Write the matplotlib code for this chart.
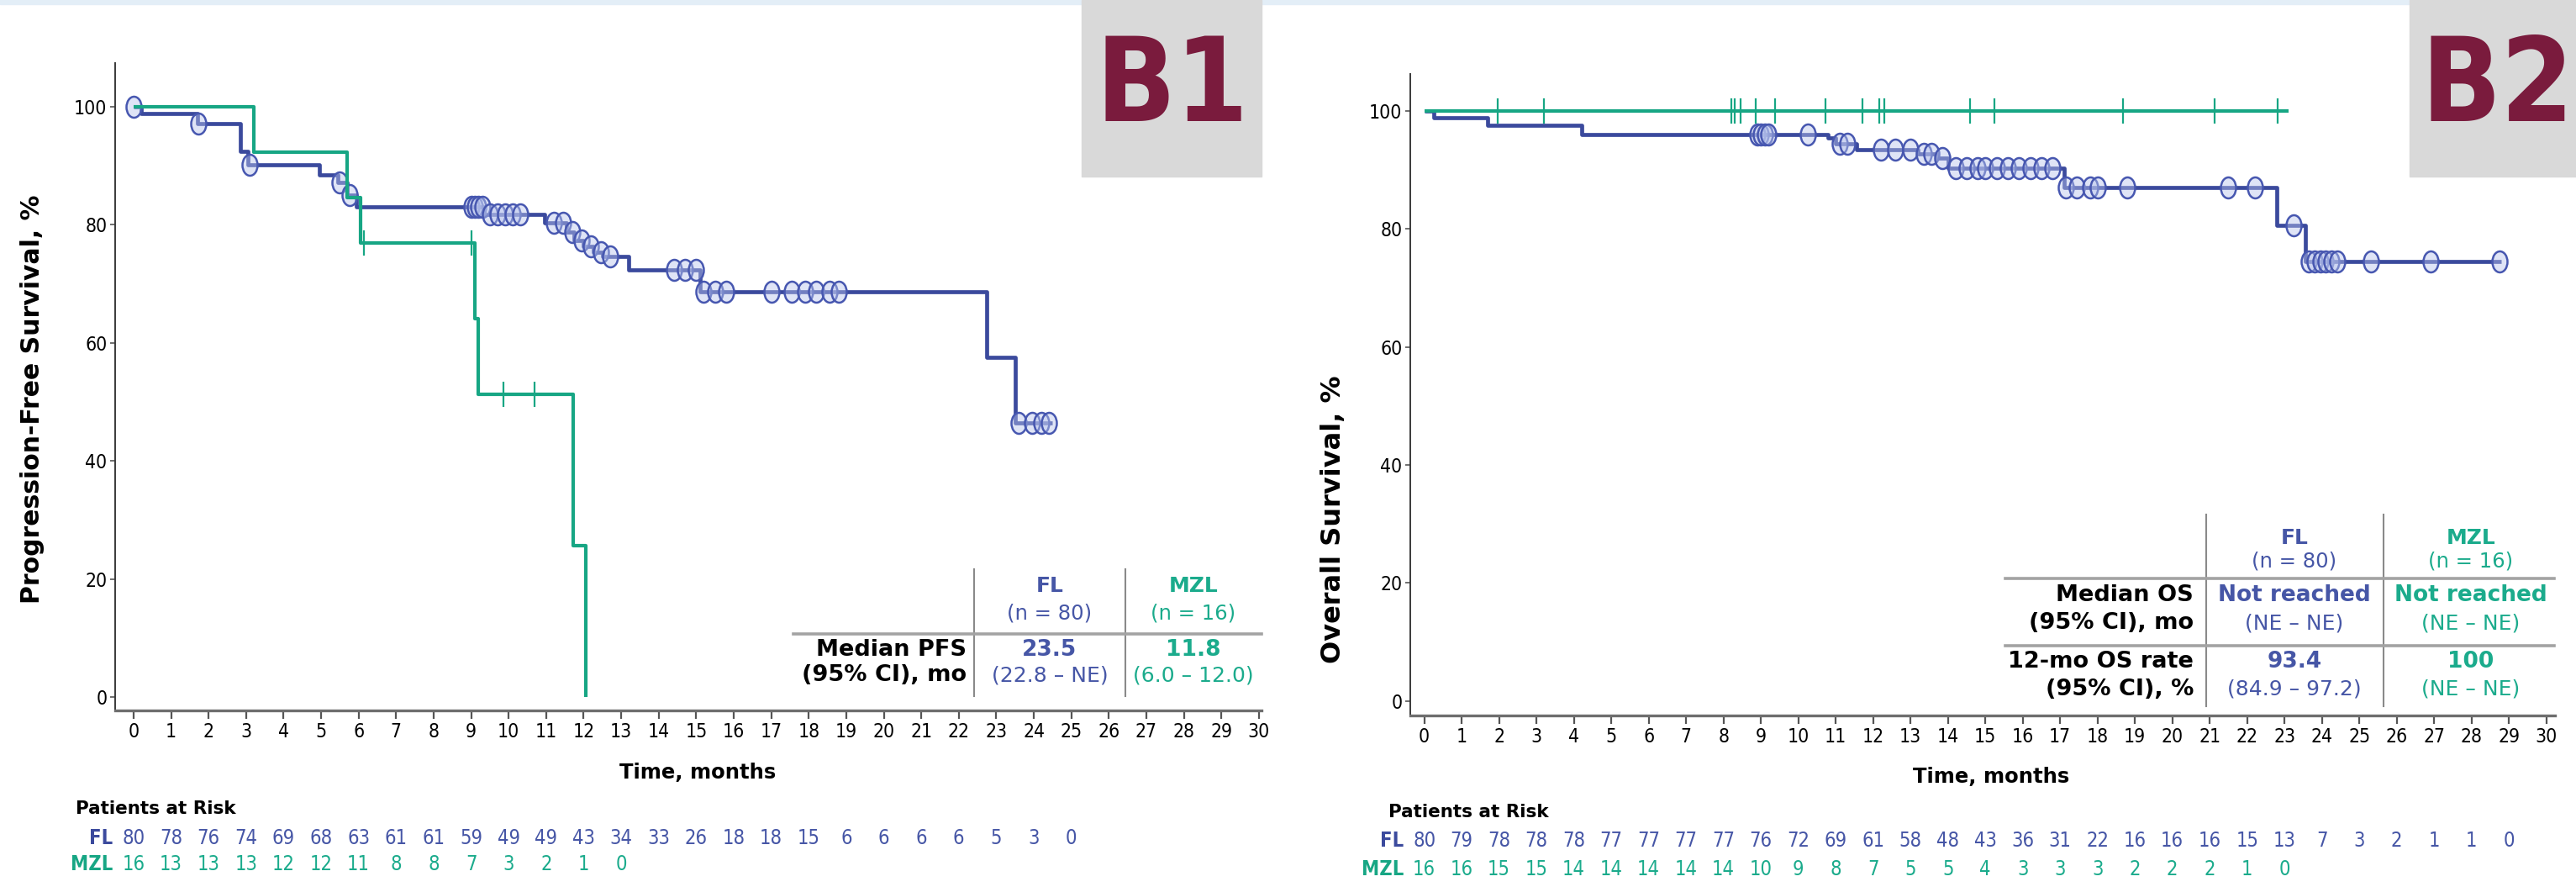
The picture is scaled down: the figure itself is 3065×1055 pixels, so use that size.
import numpy as np
import matplotlib
matplotlib.use("Agg")
import matplotlib.pyplot as plt
import matplotlib.transforms as mtransforms
from matplotlib.path import Path
from matplotlib import font_manager
from matplotlib.font_manager import FontProperties

# ---------------- data ----------------
months = list(range(31))
yticks = [0, 20, 40, 60, 80, 100]

# B1: progression-free survival (step times / survival %)
pfs_fl_t = [0, 0.2, 1.7, 2.85, 3.05, 4.95, 5.45, 5.7, 5.95, 9.35, 10.95, 11.55, 11.75,
            12.0, 12.25, 12.5, 13.2, 15.1, 22.75, 23.5, 24.5]
pfs_fl_s = [100, 98.8, 97.2, 92.5, 90.1, 88.4, 87.2, 85.0, 83.0, 81.8, 80.3, 78.7, 77.3,
            76.3, 75.4, 74.6, 72.4, 68.7, 57.5, 46.4, 46.4]
pfs_fl_cens = [0, 1.72, 3.1, 5.5, 5.75, 9.0, 9.1, 9.2, 9.3, 9.5, 9.7, 9.9, 10.1, 10.3,
               11.2, 11.45, 11.7, 11.95, 12.2, 12.45, 12.7, 14.4, 14.7, 15.0, 15.2, 15.5,
               15.8, 17.0, 17.55, 17.9, 18.2, 18.55, 18.8, 23.6, 23.95, 24.2, 24.4]
pfs_mzl_t = [0, 3.2, 5.7, 6.05, 9.1, 9.2, 11.72, 12.05]
pfs_mzl_s = [100, 92.3, 84.6, 76.9, 64.1, 51.3, 25.6, 0]
pfs_mzl_cens = [6.15, 9.0, 9.85, 10.7]

# B2: overall survival
os_fl_t = [0, 0.25, 1.7, 4.2, 10.8, 11.0, 11.55, 13.2, 13.7, 14.0, 17.1, 22.8, 23.55, 28.8]
os_fl_s = [100, 98.9, 97.6, 96.1, 95.4, 94.5, 93.5, 92.8, 92.1, 90.4, 87.0, 80.7, 74.5, 74.5]
os_fl_cens = [8.9, 9.0, 9.1, 9.2, 10.25, 11.1, 11.3, 12.2, 12.6, 13.0, 13.35, 13.55, 13.85,
              14.2, 14.5, 14.8, 15.0, 15.3, 15.6, 15.9, 16.2, 16.5, 16.8, 17.15, 17.45,
              17.8, 18.0, 18.8, 21.5, 22.2, 23.25, 23.65, 23.8, 23.95, 24.1, 24.25, 24.4,
              25.3, 26.9, 28.75]
os_mzl_t = [0, 23.1]
os_mzl_s = [100, 100]
os_mzl_cens = [1.97, 3.2, 8.2, 8.3, 8.45, 8.87, 9.37, 10.73, 11.71, 12.17, 12.3, 14.58,
               15.24, 18.67, 21.12, 22.81]

# patients at risk
pfs_risk_fl = [80, 78, 76, 74, 69, 68, 63, 61, 61, 59, 49, 49, 43, 34, 33, 26, 18, 18, 15,
               6, 6, 6, 6, 5, 3, 0]
pfs_risk_mzl = [16, 13, 13, 13, 12, 12, 11, 8, 8, 7, 3, 2, 1, 0]
os_risk_fl = [80, 79, 78, 78, 78, 77, 77, 77, 77, 76, 72, 69, 61, 58, 48, 43, 36, 31, 22,
              16, 16, 16, 15, 13, 7, 3, 2, 1, 1, 0]
os_risk_mzl = [16, 16, 15, 15, 14, 14, 14, 14, 14, 10, 9, 8, 7, 5, 5, 4, 3, 3, 3, 2, 2, 2, 1, 0]

# summary tables
groups = ["FL", "MZL"]
group_n = ["(n = 80)", "(n = 16)"]
pfs_rows = [("Median PFS", "(95% CI), mo")]
pfs_vals = [[("23.5", "(22.8 – NE)"), ("11.8", "(6.0 – 12.0)")]]
os_rows = [("Median OS", "(95% CI), mo"), ("12-mo OS rate", "(95% CI), %")]
os_vals = [[("Not reached", "(NE – NE)"), ("Not reached", "(NE – NE)")],
           [("93.4", "(84.9 – 97.2)"), ("100", "(NE – NE)")]]

# ---------------- style ----------------
W, H = 3065, 1055
FL_C = "#3b4a9d"
MZL_C = "#17a684"
FL_TXT = "#4656a6"
MZL_TXT = "#1bab8c"
MAROON = "#7a1b3d"


def _wt(w):
    if isinstance(w, str):
        return 700 if "bold" in w.lower() else 400
    return int(w)


def narrow_font(bold=False):
    # look for a condensed / narrow face among the installed families
    want = 700 if bold else 400
    best = None
    for fam in ("Liberation Sans Narrow", "Noto Sans", "DejaVu Sans", "Open Sans", "Roboto"):
        for f in font_manager.fontManager.ttflist:
            if f.name != fam or f.style != "normal":
                continue
            st = str(f.stretch)
            ok = "Narrow" in f.name or st in ("condensed", "semi-condensed")
            if ok and abs(_wt(f.weight) - want) < 50:
                if best is None or st == "condensed":
                    best = f.fname
        if best:
            return best
    return None


_nr = narrow_font(False)
_nb = narrow_font(True)


def nprop(size, bold=False):
    fn = _nb if bold else _nr
    if fn:
        return FontProperties(fname=fn, size=size)
    return FontProperties(family="DejaVu Sans", size=size * 0.82,
                          weight="bold" if bold else "normal")


TICK_FS = 16.5

circ = Path.unit_circle()
ELLIPSE = Path(circ.vertices * np.array([0.72, 1.0]), circ.codes)


def fx(x):
    return x / W


def fy(y):
    return 1 - y / H


def level_at(t_arr, s_arr, t):
    idx = np.searchsorted(np.asarray(t_arr), np.asarray(t), side="right") - 1
    return np.asarray(s_arr)[idx]


fig = plt.figure(figsize=(W / 100, H / 100), dpi=100)
fig.patches.append(plt.Rectangle((0, fy(5)), 1, 5 / H, transform=fig.transFigure,
                                 color="#e3eef7", zorder=0))


def make_axes(box, xlim, ylim):
    x0, y0, x1, y1 = box
    ax = fig.add_axes([fx(x0), fy(y1), fx(x1) - fx(x0), fy(y0) - fy(y1)])
    ax.set_xlim(*xlim)
    ax.set_ylim(*ylim)
    for s in ("top", "right"):
        ax.spines[s].set_visible(False)
    ax.spines["left"].set_color("#3a3a3a")
    ax.spines["left"].set_linewidth(1.4)
    ax.spines["bottom"].set_color("#6e6e6e")
    ax.spines["bottom"].set_linewidth(2.4)
    ax.set_xticks(months)
    ax.set_xticklabels([str(m) for m in months], fontproperties=nprop(TICK_FS))
    ax.set_yticks(yticks)
    ax.set_yticklabels([str(v) for v in yticks], fontproperties=nprop(TICK_FS))
    ax.tick_params(axis="x", length=7, width=1.6, color="#555555", pad=3)
    ax.tick_params(axis="y", length=4, width=1.2, color="#555555", pad=3)
    return ax


def draw_curves(ax, fl_t, fl_s, fl_c, mzl_t, mzl_s, mzl_c):
    ax.step(fl_t, fl_s, where="post", color=FL_C, lw=3.4, solid_capstyle="butt", zorder=3)
    ax.plot(fl_c, level_at(fl_t, fl_s, fl_c), ls="none", marker=ELLIPSE, ms=18,
            mfc=(0.72, 0.77, 0.93, 0.45), mec="#4757b0", mew=1.8, zorder=4)
    ax.step(mzl_t, mzl_s, where="post", color=MZL_C, lw=3.0, solid_capstyle="butt", zorder=5)
    ax.plot(mzl_c, level_at(mzl_t, mzl_s, mzl_c), ls="none", marker="|", ms=21,
            mec=MZL_C, mew=1.6, zorder=6)


def risk_rows(ax, fl_vals, mzl_vals, y_title, y_fl, y_mzl, x_title):
    tr = mtransforms.blended_transform_factory(ax.transData, fig.transFigure)
    fig.text(fx(x_title), fy(y_title), "Patients at Risk", fontsize=15.5, weight="bold",
             ha="left", va="center")
    for vals, y, lab, col_l, col_t in ((fl_vals, y_fl, "FL", FL_C, FL_TXT),
                                        (mzl_vals, y_mzl, "MZL", MZL_C, MZL_TXT)):
        ax.text(-0.55, fy(y), lab, transform=tr, ha="right", va="center",
                fontproperties=nprop(17, bold=True), color=col_l, clip_on=False)
        for m, v in enumerate(vals):
            ax.text(m, fy(y), str(v), transform=tr, ha="center", va="center",
                    fontproperties=nprop(17), color=col_t, clip_on=False)


def table(col_x, vline_x, vline_y, hline_y, hline_x, head_y, row_ys, label_x, rows, vals):
    for x in vline_x:
        fig.add_artist(plt.Line2D([fx(x), fx(x)], [fy(vline_y[0]), fy(vline_y[1])],
                                  color="#8a8a8a", lw=1.5, transform=fig.transFigure))
    for y in hline_y:
        fig.add_artist(plt.Line2D([fx(hline_x[0]), fx(hline_x[1])], [fy(y), fy(y)],
                                  color="#a3a3a3", lw=2.6, transform=fig.transFigure))
    for x, g, n, c in zip(col_x, groups, group_n, (FL_TXT, MZL_TXT)):
        fig.text(fx(x), fy(head_y[0]), g, ha="center", va="center", fontsize=18,
                 weight="bold", color=c)
        fig.text(fx(x), fy(head_y[1]), n, ha="center", va="center", fontsize=17.5, color=c)
    for (r1, r2), (ya, yb), rv in zip(rows, row_ys, vals):
        fig.text(fx(label_x), fy(ya), r1, ha="right", va="center", fontsize=19.5, weight="bold")
        fig.text(fx(label_x), fy(yb), r2, ha="right", va="center", fontsize=19.5, weight="bold")
        for x, (v1, v2), c in zip(col_x, rv, (FL_TXT, MZL_TXT)):
            fig.text(fx(x), fy(ya), v1, ha="center", va="center", fontsize=19,
                     weight="bold", color=c)
            fig.text(fx(x), fy(yb), v2, ha="center", va="center", fontsize=18, color=c)


# ---------------- B1 ----------------
ax1 = make_axes((137, 75, 1501, 845), (-0.49, 30.07), (-2.28, 107.4))
draw_curves(ax1, pfs_fl_t, pfs_fl_s, pfs_fl_cens, pfs_mzl_t, pfs_mzl_s, pfs_mzl_cens)
fig.text(fx(39), fy(475), "Progression-Free Survival, %", rotation=90, ha="center",
         va="center", fontsize=21.5, weight="bold")
fig.text(fx(830), fy(919), "Time, months", ha="center", va="center", fontsize=17.5,
         weight="bold")
risk_rows(ax1, pfs_risk_fl, pfs_risk_mzl, 962, 997, 1028, 90)
table((1249, 1420), (1159, 1339), (677, 828), (754,), (944, 1501), (697, 730),
      [(773, 803)], 1150, pfs_rows, pfs_vals)

# ---------------- B2 ----------------
ax2 = make_axes((1678, 88, 3040, 851), (-0.374, 30.23), (-2.48, 106.3))
draw_curves(ax2, os_fl_t, os_fl_s, os_fl_cens, os_mzl_t, os_mzl_s, os_mzl_cens)
fig.text(fx(1586), fy(618), "Overall Survival, %", rotation=90, ha="center",
         va="center", fontsize=23, weight="bold")
fig.text(fx(2369), fy(924), "Time, months", ha="center", va="center", fontsize=17.5,
         weight="bold")
risk_rows(ax2, os_risk_fl, os_risk_mzl, 966, 1000, 1034, 1652)
table((2730, 2940), (2625, 2836), (612, 840), (688, 768), (2386, 3039), (640, 668),
      [(708, 741), (787, 820)], 2610, os_rows, os_vals)

# ---------------- panel tags ----------------
for (x0, x1), tag, xc in (((1287, 1501), "B1", 1395), ((2867, 3065), "B2", 2972)):
    fig.patches.append(plt.Rectangle((fx(x0), fy(210)), fx(x1) - fx(x0), 210 / H,
                                     transform=fig.transFigure, color="#d9d9d9", zorder=1))
    fig.text(fx(xc), fy(106), tag, ha="center", va="center",
             fontproperties=nprop(100, bold=True) if _nb else
             FontProperties(family="DejaVu Sans", weight="bold", size=84),
             color=MAROON, zorder=2)

fig.savefig("out.png", dpi=100)
